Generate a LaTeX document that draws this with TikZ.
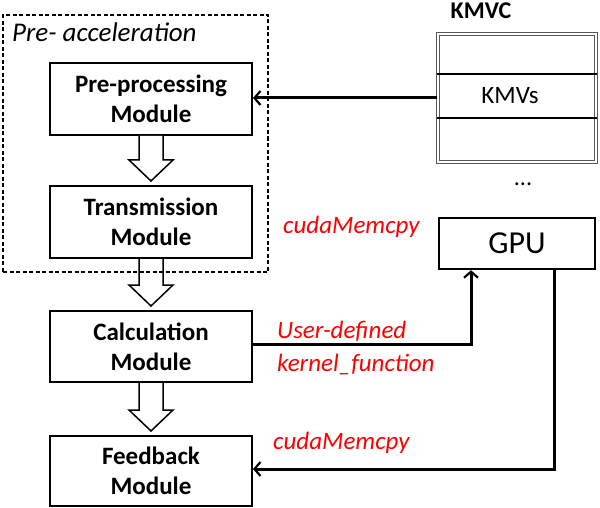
\documentclass[tikz,border=0pt]{standalone}
\usepackage{fontspec}
\setmainfont{Carlito}
\usetikzlibrary{arrows.meta,calc}
\begin{document}
\begin{tikzpicture}[x=1pt,y=-1pt,
  modbox/.style={draw,line width=2pt,minimum width=202pt,minimum height=71pt,align=center,
    font=\fontsize{25}{30}\selectfont\bfseries,inner sep=0pt},
  conn/.style={line width=3pt,-{Straight Barb[length=6pt,width=14pt,line width=2.2pt]}},
  hollow/.style={draw,line width=1.5pt,fill=white,line join=miter},
  redlbl/.style={text=red,font=\fontsize{25}{28}\selectfont\itshape,anchor=west,inner sep=0pt}]
\useasboundingbox (0,0) rectangle (600,508);
\newcommand\hollowarr[2]{%
  \draw[hollow] ($(#1.south)+(-12,0)$) -- ($(#2.north)+(-12,-25)$) -- ($(#2.north)+(-22,-25)$)
    -- ($(#2.north)+(0,-4)$) -- ($(#2.north)+(22,-25)$) -- ($(#2.north)+(12,-25)$) -- ($(#1.south)+(12,0)$);}
% modules
\node[modbox,minimum height=72pt] (pre) at (151,99) {Pre-processing\\Module};
\node[modbox,minimum height=72pt] (trans) at (151,222) {Transmission\\Module};
\node[modbox] (calc) at (151,346.5) {Calculation\\Module};
\node[modbox,minimum height=70pt] (feed) at (151,471) {Feedback\\Module};
% hollow arrows
\hollowarr{pre}{trans}
\hollowarr{trans}{calc}
\hollowarr{calc}{feed}
% dashed group
\node[draw,dashed,line width=1.3pt,dash pattern=on 4pt off 2.5pt,minimum width=265pt,minimum height=257pt,inner sep=0pt] (grp) at (135.5,143.5) {};
\node[anchor=west,inner sep=0pt,font=\fontsize{27}{30}\selectfont\itshape] (grplbl) at (12,32) {Pre- acceleration};
% KMVC
\node[draw=black!65,double=white,double distance=1.6pt,line width=1.3pt,minimum width=158pt,minimum height=128pt,inner sep=0pt] (kmvc) at (517,98) {};
\draw[line width=1.3pt] (kmvc.west |- 0,74) coordinate (r1w) -- (kmvc.east |- 0,74) coordinate (r1e);
\draw[line width=1.3pt] (kmvc.west |- 0,118) coordinate (r2w) -- (kmvc.east |- 0,118) coordinate (r2e);
\node[font=\fontsize{25}{28}\selectfont,inner sep=0pt] (kmvs) at (510,96) {KMVs};
\node[font=\fontsize{24}{26}\selectfont\bfseries,inner sep=0pt] (kmvclbl) at (481,11) {KMVC};
\node[font=\fontsize{24}{26}\selectfont,inner sep=0pt] (dots) at (523,184) {...};
% GPU
\node[draw,line width=2.5pt,minimum width=156pt,minimum height=51pt,inner sep=0pt,font=\fontsize{32}{34}\selectfont] (gpu) at (517,243.5) {GPU};
% connectors
\draw[conn] (kmvc.west) -- (kmvc.west -| pre.east);
\draw[conn] ([yshift=2.5pt]calc.east) -| ([xshift=-46pt]gpu.south);
\draw[conn] ([xshift=37pt]gpu.south) |- ([yshift=2pt]feed.east);
% labels
\node[redlbl] (lbl1) at (283,227) {cudaMemcpy};
\node[redlbl] (lbl2) at (277,331) {User-defined};
\node[redlbl] (lbl3) at (277,364) {kernel\_function};
\node[redlbl] (lbl4) at (273,443) {cudaMemcpy};
\end{tikzpicture}
\end{document}
